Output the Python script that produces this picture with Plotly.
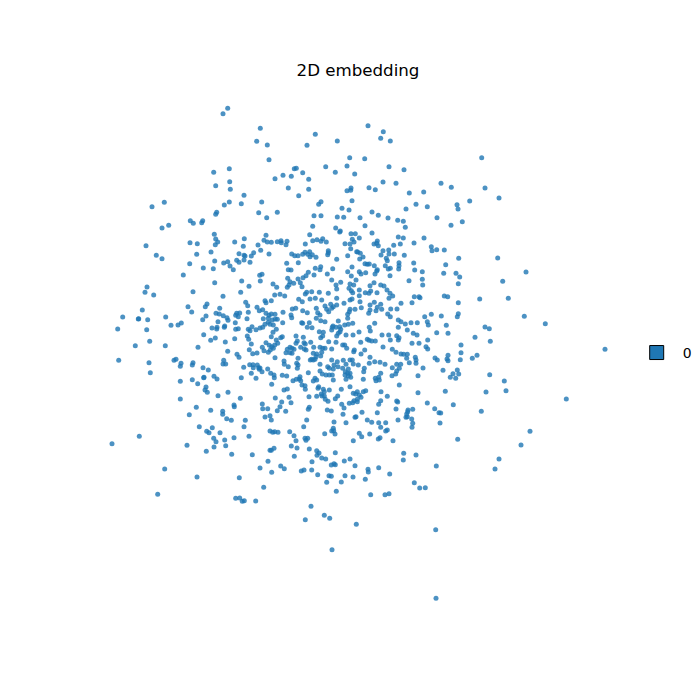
import plotly.graph_objects as go

embedding_a = [
(227.7,108.3),(223,113.7),(260.3,128.3),(256.7,141.3),(267.3,145),(269,159.7),(213.7,172.3),(229.3,168.7),(229.7,181.7),(215.7,185.7),(230.3,189.3),(244,195.3),(229.3,202),(224.3,205),(241.3,203.7),(261.7,202),(258.7,212.7),(266.7,217.7),(216.7,212.3),(215.7,214.3),(164.3,202.3),(152,206.7),(190.3,220.7),(193.3,223.3),(202.7,220.7),(201.7,222.7),(168.7,225.3),(162,228),(214.3,234.3),(215.7,239),(217.7,242),(215.3,244.7),(190,242.7),(197.3,243.7),(234.7,242),(244.3,238.7),(243.3,246.3),(266,235.3),(264,240.3),(267.3,242),(258,245),(260.7,250.3),(253.7,252.7),(251.3,256),(269,254),(146,245.7),(156.3,255.3),(162,258.7),(196.7,254.3),(211,252),(239,253.7),(244,255.3),(245,256),(189.7,263.7),(214.7,261),(223.7,263),(227.7,261.7),(236.7,260.3),(239,262.3),(244,260),(250,262.3),(203.3,268),(213.3,268.7),(230,266),(233.3,269.7),
(368,125.7),(383.3,131.7),(380.7,138.3),(390.3,141),(315.3,134.3),(307,145.3),(337.3,141),(349.7,157.7),(364.7,158.7),(325.7,166.7),(347,166),(389,166.7),(404,169.7),(294.3,168.7),(296.3,168.3),(302.7,172.7),(335.3,172.3),(354.7,174),(275,178.7),(283,175.3),(291.3,176.3),(308.7,179.3),(383,182),(396,183.3),(288.3,188),(308.7,189.3),(351,188),(347,190.7),(350.7,190.3),(369,187.7),(375.3,189.7),(409.3,193),(423.7,192),(298.7,195.7),(352,200.7),(321,201.7),(318.7,204.3),(416,204.3),(427.3,206.7),(342,208.3),(349,210),(406,209),(277.3,212.3),(372,212),(314,215.7),(321,215.7),(337.3,217),(343.7,217.3),(360,217.7),(378.3,215.3),(388,218),(437,217.7),(397.7,220.3),(403.3,221.3),(312.7,226.3),(335.7,228),(365,225.7),(405.3,227.3),(340.3,231),(339.7,232),(351,233.7),(355.3,233.7),(372,233),(309.7,234.7),(398.3,237),(403.3,238),(424,238),(359.3,238),(352.3,239.3),(312.7,240.7),(317,239.7),(322.7,238.7),(321,241.3),(326.3,242),(271.3,242.3),(277.3,241.7),(281,240.7),(281.3,242.7),(287,241.3),(286,244.7),(305.3,244),(345,243.7),(350,244),(354,242),(374,244),(377.3,241),(376.7,243.3),(378.3,245.7),(393.7,245.3),(400.3,244),(414,243),(431.3,246.7),(432,250.7),(436.7,249.7),(350.7,248.7),(383,250.7),(388.7,250),(356.7,251.7),(357.7,252),(360.3,253.3),(291.7,254),(294.7,255.7),(298,255.7),(302.7,254.3),(305,252.3),(309.7,251.7),(307.7,254.3),(312.3,254.7),(310,256.7),(316,257.3),(328.3,250.7),(328.3,252.7),(327.7,254.7),(347.7,255.7),(363,257),(359.7,259),(381,255),(389,254),(394.3,254),(404.3,255.3),(386.3,258.3),(387.3,260.7),(336.7,259.3),(286.7,263.3),(298.3,262.7),(365,263.7),(367.3,264.3),(369.3,264),(374.3,265.7),(385.3,265.7),(399,262.7),(399,265.7),(413.7,263),(320.7,266.7),(315.3,268.3),(332.7,268.7),(352,267),(288.3,269.7),(291,270),(320,269.7),(377.3,269.7),(388.3,269),(390.3,268.3),(398.7,269),(414.7,270),
(481.7,157.7),(441,183.3),(451.3,187.3),(485,188),(499,198),(469.7,201),(457,204.7),(458,209),(462.3,221.7),(451,225.3),(444.3,250),(458.7,258.3),(497.7,258),(445.7,264.7),
]

embedding_b = [
(183.3,275),(214.7,282.7),(241.7,281),(249,286.3),(259.7,275.3),(262,274.3),(260.3,281),(147,287),(145,292.3),(153.7,295),(193,291.7),(223,296.3),(240.7,292.3),(245.7,302.3),(247.7,305.7),(265,300.7),(266,302.7),(207,304),(205.3,306.7),(188,306.7),(219.7,308.3),(142.3,310),(191.7,312),(257,307.3),(259.3,310.7),(262.7,309.7),(248.3,312.3),(266,313.3),(269,315.3),(216,313.3),(219.3,314),(223.3,315.7),(227,317.7),(228,320.3),(236.7,313.3),(239.7,313),(235.7,315.3),(238.3,316.7),(206,316),(122.7,317),(138.3,319),(138.7,318.7),(147.7,319.7),(165.7,317),(202.7,319.7),(247,318.7),(263.3,318.7),(218,321.7),(235.3,322.7),(268.3,322.3),(268.3,318.3),(181.3,323),(178,325),(171,325.3),(265,324.3),(252,326.7),(224.7,326),(224.3,327.3),(212,328),(217,327.3),(216.7,329),(235.7,329.3),(238.3,328.7),(248.3,329.3),(250,330.7),(256,329.7),(260,328),(262.7,327.3),(117.7,329),(146.7,329.7),(203.7,334.7),(247.3,336),(248.7,339.3),(215.3,338),(210.7,340.3),(234.7,338.7),(225.3,342),(149.7,341.3),(135.3,345.7),(165.3,345.7),(251.3,344),(266,342.7),(262.3,347.3),(264,350.7),(269.3,345.3),(268.3,352.3),(198,347.3),(249.3,349.7),(227.7,351.3),(252.7,353.7),(257,353),(237,354.3),(239,357.3),(118.7,360.3),(149,362.7),(150.3,372.7),(174,360.3),(176,359.3),(181,363.3),(180.3,366.3),(193,362.7),(192.3,365),(223.7,360.3),(223,364),(225.7,364),(249.7,364.7),(253,364.7),(253.3,367.7),(257.3,365),(258.7,367.7),(260,368),(259.3,369.3),(262,371.7),(267.7,369),(243.7,367.3),(203,367.7),(208.3,370),(251.3,373.3),(203.7,377.7),(204,377.3),(214,376.3),(217,379),(241.3,377.7),(256,378.3),(180.3,381.3),(192.3,379.7),(197.7,383.7),(206,387),(205,390),(207.3,392.3),(218,395.7),(228,392.3),(240.3,398.3),(180.3,399),(262.3,404),(262.7,408.7),(267.7,408.7),(234,405),(234.3,406.7),(196.3,407.3),(210.7,410.3),(222.7,411.3),(222.7,414.3),(189.3,414.7),(265,417),(270,415.7),(226.7,418.7),(231.3,420.3),(245.3,420.3),(244,426.7),(199.3,426.7),(212.3,427.7),(206.7,431.3),(209,432.7),(220,432.7),(139.3,436.3),(213.7,438.3),(224.7,440),(234,437.7),(249,436.3),
]

embedding_c = [
(308.3,272.3),(314,275),(327.3,274),(347.7,271.7),(351.3,276),(359.3,271.7),(361,274),(365.7,272.7),(375,274),(376.7,271),(390,275.7),(422.3,271.7),(409,280.7),(422.3,279.3),(287.7,278.3),(290,281.7),(298,279),(303,277.7),(306,275.7),
(273,284),(276.7,287.3),(287.3,287.3),(289,285),(293.7,283.3),(300.3,282.7),(302,286.7),(331.7,280),(336,285),(340.7,282.3),(350,284),(356,280),(353.7,285),(349,288.3),(351.3,290.7),(359.3,290),(352.7,292.7),(370,285.7),(374,282.7),(380.7,285),(384,286),(387,290),(390,293.3),(306.7,292.3),(311.7,291.7),(319.3,292.3),(328.3,293.3),(336.7,289),(365.3,292.7),(369,293.3),(370.7,291),(377,292.7),(422.7,285),(274.7,295),(280,294.3),(284.7,296),(305.3,294),(315.3,298.3),(310,299),(336.7,298.3),(350,300),(352,299),(359.3,295.7),(360,301.7),(414.3,296.7),(419,296.7),(420,297.7),(389,298.3),(392.7,296),(271.3,300.7),
(298.7,299.3),(302.3,301.7),(321.7,300),(325,306),(330.7,304.3),(333.3,306.7),(336.7,305),(344,303.3),(326.7,309.3),(328.7,311.7),(331.7,308.3),(350,309.3),(355,309.3),(361.3,307.7),(370,305),(374.3,302.3),(380.7,304.3),(377.3,307.3),(376,310.7),(381.7,309.3),(370,310),(368.7,313.3),(390.7,309),(397,309),(401,303.3),(412,302.7),(316.3,308.3),(317.7,312.7),(320,315),(302.7,310.7),(307.3,312.7),(292.3,309),(295.7,308.3),
(271.3,314),(275,314.3),(283,312.3),(291,315),(291.7,317.7),(272.3,320),(275.3,319),(277.3,319.3),(282.7,322.7),(270,324.3),(273.3,325),(301.7,322.7),(302.7,323.3),(309.3,322.7),(312,327.7),(307.3,327.3),(316.3,318.3),(320.7,320.7),(325,321.7),(338.3,321),(333,326),(336,327.3),(339.7,326.7),(344.7,325),(348.3,324.3),(352.7,323.3),(349.3,311.7),(347.7,314.3),(347.7,318.3),(374.7,323.3),(369.3,327.3),(370.3,331),(387.7,314),(390.3,316.7),(398.3,320),(401,321.7),(405.3,324),(411,322.7),(417.3,322.7),(424.7,316.7),(431.3,314.3),(427.3,321.7),(428.3,325),(407.3,330),(398.3,327.3),(413.3,333.3),(417,335),(436.7,332.7),
(273,332.3),(271.3,336.7),(276.3,329.3),(282.3,336.7),(280.7,337.7),(296,336),(297.3,341),(303.3,337.3),(319.3,331.7),(323.3,332.3),(320.7,337.7),(322.7,336),(331.7,330),(332.3,327.3),(340,331.7),(338.3,333.3),(336.7,336),(340.7,329.3),(346,335),(353,335),(359,332),(382,335),(388.7,335),(396.7,335.7),(398.3,340),(399,337.7),(427.7,340),(390.3,340),(367.3,339.3),(369,340.3),(371.7,341),(375.3,341),(360.7,342.3),(412,343.3),(419,343.3),(328.7,341.7),(336,342.3),(342.7,345),(344.7,345),(276.3,340),(277.7,343.3),
(274.7,345),(271.7,346.7),(270.3,350),(273.3,348.3),(296,343.3),(304,342.7),(305.3,344),(310.7,342.3),(300.7,347.3),(304.3,349),(306,350),(287.3,349.3),(290,347.3),(292,348.3),(294,349.3),(286,352.7),(290,352.7),(292,353.3),(313.7,347.3),(320,347.3),(322.7,348.3),(325,348.3),(331.7,349),(346.7,348.3),(354.3,350),(353.7,351.7),(364.7,350),(383,347),(392.3,349.3),(396,352.3),(401,354),(403.7,354.3),(426,346.7),(427.7,349),(407.3,354.3),(415.3,357.3),(416,360),(435,358),(437.3,360),(313.3,353.3),(311.7,359.3),(316.7,354),(320.7,356),(321.7,352.3),
(275,357.7),(284,361),(284.3,364.3),(288.3,366.7),(298,358.3),(296.7,363.3),(298,365),(297.3,368.3),(310.3,360),(313.3,360),(315,359.3),(316,356.7),(331.7,360),(337.3,361.7),(343.3,360.3),(350,360),(352.3,360),(346,364.3),(353.3,364),(358.3,365),(361,354),(370,357.3),(369.3,363.3),(374.7,361.7),(380,362.3),(385,364.3),(392.3,367.7),(396.7,364.3),(400.7,364.3),(399.3,368.3),(406.7,358.3),(409.3,362.7),(416,363.3),(423,368),(327.7,366.7),(329.3,368.3),(334,365),(333.3,369),(338,366.7),(342.7,368.3),(348.3,369),(364.3,368.3),(363.7,371.7),(320,364.3),
(270.7,373.3),(274,375),(274.3,377.7),(282.3,375.3),(286.7,376),(293,380.7),(296.3,379.3),(300,376.7),(299.3,379),(300.7,380.7),(308.3,372.7),(320,371),(322.3,374),(326,375),(329.3,375),(332.3,375),(345.3,371.7),(347.7,373.3),(350,373.3),(345,375),(348.3,376),(350.7,377.3),(315,378.3),(313.3,381),(316.7,380),(333.3,380),(346,379.3),(363.3,379.3),(375.3,378.3),(378.7,377.3),(376,380.7),(379.3,380),(396.7,371),(395.7,374),(392,375.7),(418,375.7),(271.7,384.3),(302,385),(305,385.7),(318.7,386.7),(318,388.3),(350,386.7),(399.3,385),(380.7,373.3),
(284,390),(287.3,389),(305.3,389.3),(323.3,389.3),(324.3,391.7),(329.3,390),(321.3,394),(324.3,396),(341.3,389.3),(365.7,390.7),(363.3,391.7),(357.3,391.7),(355.7,394),(353.3,393.3),(316.7,396.3),(309,396.7),(325.3,399.3),(322,396),(337.7,396),(335.3,398.7),(359.3,395),(361,397.3),(357.3,399.3),(354,400.7),(381,391.7),(380.7,400.7),(387.3,396.3),(418,392.7),(275.3,398),(289,397.3),(291,402.7),
(281.7,402),(280,406.7),(277.3,410.7),(285.7,411.3),(328,401.3),(341.7,404.3),(349.3,403.3),(344,408),(352.7,402.7),(357.3,401.7),(378.7,404.3),(396.7,401),(397.7,402),(396,409),(427.3,403),(408,410),(412.7,409.3),(434.7,408.7),(439,412.7),(309.3,407.3),(308.3,409.3),(327.3,410),(331.3,411),(343,414.3),(362,412.3),(377.3,412.7),
(306.7,420),(355,417.3),(356,416.7),(367.3,420),(334,422),(346,422.7),(371.7,422.3),(378.7,422.7),(385.7,422.7),(380.7,427.3),(387.3,430),(385.7,431),(398,420),(407.7,411.7),(406.7,414),(407.3,416.7),(411.7,419),(412.7,423.3),(412,427.3),(406,417.3),(303.7,426.7),(271.3,420),(333.3,428.3),(331.7,431),(335,434),(324.7,433.7),(359.3,433.3),(369.7,434),(380,437.7),(378.3,439),(289.7,431.7),(294,435.7),(305,438.3),(307.7,438.3),(270,431),(272.7,432.3),(274.7,431.7),(278,432.3),(333.7,430.7),(361.7,436.7),
]

embedding_d = [
(526,272),(502.7,281.3),(443.7,273.3),(456,273.3),(459.7,277),(458.3,283.7),(444.3,296),(447.7,296.7),(479.7,299),(508.3,298.3),(458.3,302.7),(458.3,313.7),(457.3,316.7),(441.3,316),(524.3,316.3),(545.3,323.7),(446.3,325.3),(485,327),(489.3,328.7),(448,333.3),(475,337.3),(490.3,341.3),(461,345),(605,349.3),(448,355.3),(461,352.7),(477,355.3),(472.3,358.3),(447,359),(448,360.7),(460.3,359.7),(443,370.3),(457.3,370),(453,373.7),(458.7,374),(450.3,377.3),(455.7,378.3),(489.7,374.7),(504.3,381),(506,390.7),(486,392),(445.3,391.3),(566.3,399),(453.3,404.7),(440.7,413),(481.3,411.3),(440,423),(530,431.3),(457.7,439.3),
(112,443.7),(187,445.3),(216,441.7),(214,447),(225.7,445.7),(206.3,451.3),(231.7,454.3),(252.3,454.7),(270,450.3),(268,461.3),(260,468),(164.7,469),(197,477),(239.3,477.7),(263.7,487.3),(157.7,494.3),(235.7,498.3),(239.7,498),(242.3,501.3),(244.3,500.7),(255.7,501),
(353.3,440.7),(393,440.7),(296,440.7),(306,440.3),(291.3,446),(297,448),(274,448.3),(271.3,450.3),(309.3,449),(316.7,450.7),(319,453),(317,455.3),(335.3,452.7),(321.7,458),(325.7,459),(294.3,456.3),(312,461.7),(350,459),(344.3,461),(403.7,453.3),(403.3,460),(416,455),(436.3,466),(280.7,466),(284.3,468.7),(331.3,465),(334,463.7),(335.3,464.7),(355,465.7),(378.7,467.7),(368,469.3),(368.3,472),(271.7,472.3),(301.3,471),(304,470),(311.7,470),(317.7,474.7),(329,475.7),(331.3,476.3),(345,475.7),(353,477),(389.7,474),(365.3,479.3),(326.7,482.3),(341.3,482),(414.3,482.7),(419.7,488),(425.3,487.7),(336.3,491.3),(370.7,494.7),(385,494.7),(389,493.7),(311,506.3),(324.3,515.3),(329.7,518.3),(305.3,519.7),(356.3,524.3),(435.7,529.7),(332,549.7),(436,598.3),
(499,459),(495,469),(521,445),
]

title_text = "2D embedding"
legend_label = "0"

all_points = embedding_a + embedding_b + embedding_c + embedding_d
xs = [p[0] for p in all_points]
ys = [p[1] for p in all_points]

fig = go.Figure()
fig.add_trace(go.Scatter(x=xs, y=ys, mode="markers", showlegend=False, hoverinfo="skip",
                         marker=dict(size=5, color="#1f77b4", opacity=0.8, line=dict(width=0))))
fig.add_trace(go.Scatter(x=[None], y=[None], mode="markers", name=legend_label,
                         marker=dict(symbol="square", size=14, color="#1f77b4",
                                     line=dict(color="black", width=1))))
fig.update_layout(
    width=700, height=700, autosize=False,
    margin=dict(l=0, r=0, t=0, b=0),
    paper_bgcolor="white", plot_bgcolor="white",
    font=dict(family="DejaVu Sans", color="#000000"),
    title=dict(text=title_text, x=350/700, y=1-62/700, xanchor="center", yanchor="middle",
               font=dict(size=16.67, family="DejaVu Sans", color="#000000")),
    xaxis=dict(range=[8, 708], visible=False, fixedrange=True),
    yaxis=dict(range=[708, 8], visible=False, fixedrange=True),
    legend=dict(x=622.7/700, xanchor="left", y=1-345/700, yanchor="middle", bgcolor="rgba(0,0,0,0)",
                itemwidth=42,
                font=dict(size=13.9, family="DejaVu Sans", color="#000000"), borderwidth=0),
)
fig.write_html("out.html")
